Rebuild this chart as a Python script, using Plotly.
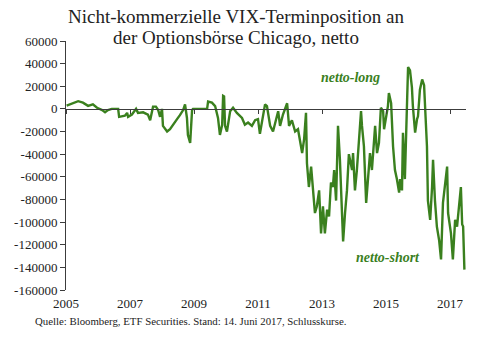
import plotly.graph_objects as go

# Net non-commercial VIX futures position (contracts), sampled in decimal years
years = [
    2005.02, 2005.22, 2005.38, 2005.53, 2005.69, 2005.84, 2005.97, 2006.13, 2006.22, 2006.31,
    2006.43, 2006.63, 2006.66, 2006.84, 2006.91, 2006.94, 2007.06, 2007.19, 2007.25, 2007.41,
    2007.56, 2007.63, 2007.72, 2007.81, 2007.88, 2007.94, 2008.00, 2008.03, 2008.16, 2008.25,
    2008.34, 2008.47, 2008.56, 2008.66, 2008.72, 2008.78, 2008.81, 2008.88, 2008.94, 2008.97,
    2009.41, 2009.44, 2009.56, 2009.66, 2009.75, 2009.81, 2009.88, 2009.91, 2009.94, 2009.97,
    2010.03, 2010.13, 2010.22, 2010.34, 2010.50, 2010.59, 2010.69, 2010.81, 2010.91, 2011.00,
    2011.06, 2011.13, 2011.22, 2011.28, 2011.31, 2011.38, 2011.47, 2011.59, 2011.63, 2011.69,
    2011.78, 2011.91, 2011.97, 2012.06, 2012.16, 2012.25, 2012.38, 2012.44, 2012.50, 2012.53,
    2012.59, 2012.66, 2012.72, 2012.78, 2012.84, 2012.91, 2012.97, 2013.03, 2013.09, 2013.16,
    2013.22, 2013.28, 2013.34, 2013.38, 2013.44, 2013.50, 2013.56, 2013.63, 2013.66, 2013.72,
    2013.78, 2013.84, 2013.94, 2013.97, 2014.03, 2014.09, 2014.16, 2014.22, 2014.25, 2014.31,
    2014.38, 2014.44, 2014.50, 2014.56, 2014.66, 2014.72, 2014.78, 2014.84, 2014.91, 2014.94,
    2015.00, 2015.06, 2015.09, 2015.16, 2015.22, 2015.28, 2015.34, 2015.41, 2015.44, 2015.50,
    2015.53, 2015.59, 2015.66, 2015.69, 2015.75, 2015.81, 2015.84, 2015.91, 2015.97, 2016.00,
    2016.06, 2016.13, 2016.19, 2016.28, 2016.31, 2016.38, 2016.44, 2016.47, 2016.53, 2016.59,
    2016.66, 2016.72, 2016.78, 2016.84, 2016.91, 2016.94, 2017.03, 2017.09, 2017.16, 2017.22,
    2017.28, 2017.34, 2017.38, 2017.41, 2017.45,
]
net_position = [
    3000, 5500, 6800, 5500, 2700, 4000, 1000, -1000, -3000, -1000,
    0, 0, -7000, -6000, -3500, -7000, -5000, 0, -3500, -3000,
    -5000, -10000, 2000, 2000, -1000, -7000, 0, -15000, -20000, -18000,
    -14000, -9000, -5500, -1000, 4000, -8000, -23000, -30000, -1000, 0,
    0, 6500, 5500, 2500, -8000, -23000, -14000, 11500, 11000, -15000,
    -20000, -2000, 1000, -3500, -8000, -14000, -12000, -15000, -10000, -9000,
    -22000, -12000, 4000, 2500, -3500, -15000, -20000, -8000, -2000, -15000,
    -5000, 5000, -15000, -10000, -20000, -18000, -39000, -27000, -3500, -48000,
    -69000, -51000, -69000, -92000, -86000, -72000, -110000, -86000, -110000, -89000,
    -95000, -65000, -69000, -54000, -81000, -15000, -45000, -104000, -117000, -92000,
    -72000, -40000, -54000, -39000, -72000, -54000, -30000, -2000, -15000, -33000,
    -83000, -62000, -39000, -54000, -15000, -39000, -30000, 1000, -2000, -18000,
    -9000, 2500, 14000, 5000, -33000, -54000, -62000, -74000, -62000, -72000,
    -21000, -62000, 8000, 37000, 34000, 19000, 2500, -21000, -9000, -6500,
    17000, 26000, 21000, -33000, -81000, -98000, -69000, -45000, -81000, -104000,
    -116000, -133000, -83000, -65000, -51000, -92000, -110000, -133000, -98000, -104000,
    -83000, -69000, -102000, -104000, -142000,
]

year_ticks = [2005, 2007, 2009, 2011, 2013, 2015, 2017]
value_ticks = [60000, 40000, 20000, 0, -20000, -40000, -60000, -80000,
               -100000, -120000, -140000, -160000]

title_lines = ["Nicht-kommerzielle VIX-Terminposition an",
               "der Optionsbörse Chicago, netto"]
source_note = "Quelle: Bloomberg, ETF Securities. Stand: 14. Juni 2017, Schlusskurse."

x_range = [2005, 2017.5]
y_range = [-160000, 60000]

GREEN = "rgb(58,128,30)"
AXIS = "#3c3c3c"
TEXT = "#222222"
SERIF = "Liberation Serif, Times New Roman, serif"

W, H = 500, 341
ML, MR, MT, MB = 66, 34, 41, 51
plot_w = W - ML - MR
plot_h = H - MT - MB


def px_to_paper_x(px):
    return (px - ML) / plot_w


def px_to_paper_y(py):
    return (H - MB - py) / plot_h


fig = go.Figure()

fig.add_trace(go.Scatter(
    x=years, y=net_position, mode="lines",
    line=dict(color=GREEN, width=2.4),
    showlegend=False, hoverinfo="skip",
))

# Invisible trace so the zero-crossing axis with tick marks is drawn
fig.add_trace(go.Scatter(
    x=x_range, y=[0, 0], xaxis="x2", mode="lines",
    line=dict(width=0), showlegend=False, hoverinfo="skip",
))

zero_pos = (0 - y_range[0]) / (y_range[1] - y_range[0])

annotations = [
    dict(text=title_lines[0], x=px_to_paper_x(236), y=px_to_paper_y(16),
         xref="paper", yref="paper", xanchor="center", yanchor="middle",
         showarrow=False, font=dict(family=SERIF, size=19, color=TEXT)),
    dict(text=title_lines[1], x=px_to_paper_x(236), y=px_to_paper_y(37),
         xref="paper", yref="paper", xanchor="center", yanchor="middle",
         showarrow=False, font=dict(family=SERIF, size=19, color=TEXT)),
    dict(text="<b><i>netto-long</i></b>", x=2013.9, y=28000, xref="x", yref="y",
         showarrow=False, font=dict(family=SERIF, size=14, color=GREEN)),
    dict(text="<b><i>netto-short</i></b>", x=2015.06, y=-131000, xref="x", yref="y",
         showarrow=False, font=dict(family=SERIF, size=14, color=GREEN)),
    dict(text=source_note, x=px_to_paper_x(33), y=px_to_paper_y(321),
         xref="paper", yref="paper", xanchor="left", yanchor="middle",
         showarrow=False, font=dict(family=SERIF, size=10.8, color=TEXT)),
]

fig.update_layout(
    width=W, height=H,
    margin=dict(l=ML, r=MR, t=MT, b=MB),
    paper_bgcolor="white", plot_bgcolor="white",
    font=dict(family=SERIF, color=TEXT),
    xaxis=dict(
        range=x_range, tickvals=year_ticks, ticktext=[str(v) for v in year_ticks],
        showgrid=False, zeroline=False, showline=False, ticks="",
        ticklabelstandoff=4,
        tickfont=dict(family=SERIF, size=13, color=TEXT),
    ),
    xaxis2=dict(
        range=x_range, overlaying="x", anchor="free", position=zero_pos,
        side="bottom", tickvals=year_ticks, showticklabels=False,
        showline=True, linecolor=AXIS, linewidth=1,
        ticks="outside", ticklen=4, tickcolor=AXIS, showgrid=False, zeroline=False,
    ),
    yaxis=dict(
        range=y_range, tickvals=value_ticks, ticktext=[str(v) for v in value_ticks],
        showgrid=False, zeroline=False, showline=True, linecolor=AXIS, linewidth=1,
        ticks="outside", ticklen=5, tickcolor=AXIS,
        tickfont=dict(family=SERIF, size=13, color=TEXT),
    ),
    annotations=annotations,
)

fig.write_html("out.html")
